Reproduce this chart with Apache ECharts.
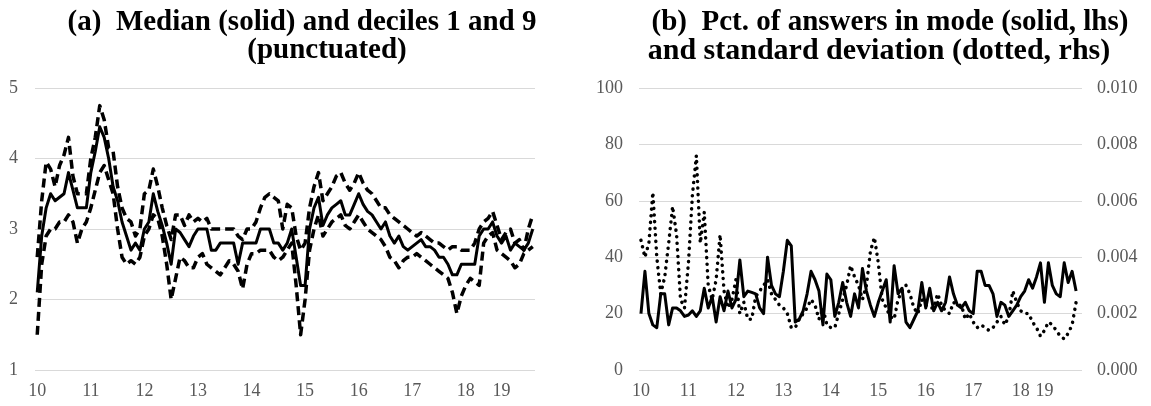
<!DOCTYPE html>
<html>
<head>
<meta charset="utf-8">
<script src="https://cdn.jsdelivr.net/npm/echarts@6/dist/echarts.min.js"></script>
<style>
html,body{margin:0;padding:0;background:#fff;}
#chart{width:1151px;height:406px;}
</style>
</head>
<body>
<div id="chart"></div>
<script>
// ---------- DATA ----------
// Panel (a): monthly survey, Jan 2010 onwards
const medianA = [2.1,2.9,3.3,3.5,3.4,3.45,3.5,3.8,3.55,3.3,3.3,3.3,
  3.8,4.1,4.45,4.3,4.0,3.6,3.4,3.1,2.9,2.7,2.8,2.7,
  3.0,3.1,3.5,3.25,3.05,2.8,2.5,3.0,2.95,2.85,2.75,2.9,
  3.0,3.0,3.0,2.7,2.7,2.8,2.8,2.8,2.8,2.5,2.8,2.8,
  2.8,2.8,3.0,3.0,3.0,2.8,2.8,2.7,2.8,3.0,2.6,2.2,
  2.2,3.0,3.3,3.45,3.05,3.2,3.3,3.35,3.4,3.2,3.2,3.35,
  3.5,3.35,3.25,3.2,3.1,3.0,3.1,2.9,2.8,2.9,2.75,2.7,
  2.75,2.8,2.85,2.75,2.75,2.7,2.6,2.6,2.5,2.35,2.35,2.5,
  2.5,2.5,2.5,2.9,3.0,3.0,3.1,2.9,2.8,2.9,2.7,2.8,
  2.75,2.7,2.8,3.0];
const decile1A = [1.5,2.5,2.9,3.0,3.0,3.1,3.1,3.2,3.1,2.8,3.0,3.1,
  3.3,3.55,3.8,3.9,3.7,3.5,3.0,2.6,2.5,2.55,2.5,2.6,
  2.9,3.0,3.2,3.15,2.9,2.5,2.0,2.3,2.6,2.55,2.45,2.45,
  2.6,2.65,2.5,2.45,2.4,2.35,2.45,2.55,2.5,2.4,2.15,2.5,
  2.65,2.65,2.7,2.7,2.7,2.6,2.55,2.6,2.7,2.8,2.2,1.5,
  2.0,2.7,3.0,3.2,2.9,3.0,3.1,3.15,3.2,3.05,3.0,3.1,
  3.2,3.1,3.0,2.95,2.9,2.85,2.75,2.6,2.55,2.45,2.55,2.6,
  2.6,2.65,2.6,2.55,2.5,2.45,2.4,2.35,2.3,2.1,1.8,2.05,
  2.2,2.3,2.25,2.2,2.8,2.9,2.95,2.7,2.65,2.6,2.55,2.45,
  2.5,2.65,2.7,2.75];
const decile9A = [2.6,3.4,3.95,3.85,3.6,3.9,4.05,4.3,3.75,3.5,3.5,3.5,
  4.0,4.3,4.75,4.55,4.15,4.1,3.6,3.3,3.15,3.1,2.9,3.0,
  3.5,3.55,3.85,3.6,3.3,3.05,2.85,3.2,3.2,3.05,3.2,3.1,
  3.15,3.1,3.15,3.0,3.0,3.0,3.0,3.0,3.0,2.9,2.85,3.0,
  3.0,3.1,3.3,3.45,3.5,3.45,3.4,3.0,3.35,3.3,2.9,2.7,
  2.8,3.3,3.6,3.8,3.4,3.5,3.6,3.75,3.8,3.65,3.55,3.65,
  3.8,3.65,3.55,3.5,3.4,3.3,3.3,3.2,3.15,3.1,3.05,3.0,
  2.95,2.9,2.95,2.9,2.85,2.8,2.8,2.75,2.7,2.75,2.75,2.7,
  2.7,2.7,2.8,3.0,3.1,3.15,3.25,3.05,2.85,2.95,3.0,2.8,
  2.85,2.7,3.0,3.2];

// Panel (b): percent of answers in mode (lhs) and standard deviation (rhs)
const modePctB = [20,35,20,16,15,27,27,16,22,22,21,19,
  19.5,21,19,21,29,22,26,17,26,21,28,22,
  25,39,26,28,27.5,27,22,20,40,30,27,26,
  35,46,44,17,18,21,27,35,32,28,16,34,
  32,19,24,31,24,19,27,22,36,28,23,19,
  24,28,32,17,37,27,29,17,15,18,21,31,
  22,29,21,24,21,24,33,27,23,22,24,21,
  20,35,35,30,30,27,19,24,23,19,21,23,
  26,28,32,29,33,38,24,38,30,27,26,38,
  31,35,28];
const stdDevB = [0.0046,0.0040,0.0045,0.0063,0.0040,0.0027,0.0033,0.0045,0.0058,0.0048,0.0025,0.0022,
  0.0038,0.0062,0.0076,0.0045,0.0056,0.0030,0.0025,0.0032,0.0048,0.0028,0.0022,0.0025,
  0.0032,0.0020,0.0024,0.0018,0.0018,0.0026,0.0028,0.0030,0.0032,0.0027,0.0025,0.0023,
  0.0022,0.0020,0.0015,0.0015,0.0018,0.0020,0.0022,0.0025,0.0023,0.0018,0.0022,0.0016,
  0.0015,0.0015,0.0020,0.0025,0.0030,0.0037,0.0033,0.0030,0.0025,0.0030,0.0042,0.0047,
  0.0038,0.0025,0.0022,0.0019,0.0018,0.0025,0.0028,0.0030,0.0027,0.0022,0.0020,0.0025,
  0.0023,0.0022,0.0022,0.0027,0.0023,0.0021,0.0020,0.0024,0.0023,0.0023,0.0018,0.0020,
  0.0017,0.0015,0.0016,0.0015,0.0014,0.0015,0.0017,0.0019,0.0016,0.0019,0.0028,0.0024,
  0.0021,0.0020,0.0020,0.0017,0.0015,0.0012,0.0014,0.0017,0.0016,0.0014,0.0012,0.0011,
  0.0013,0.0016,0.0024];

// Axis categories (months) and the tick labels shown on them
const monthCountA = 112;
const monthCountB = 112;
const tickLabelsA = {'2010-01':'10','2011-01':'11','2012-01':'12','2013-01':'13','2014-01':'14',
  '2015-01':'15','2016-01':'16','2017-01':'17','2018-01':'18','2018-09':'19'};
const tickLabelsB = {'2010-01':'10','2011-01':'11','2012-01':'12','2013-01':'13','2014-01':'14',
  '2015-01':'15','2016-01':'16','2017-01':'17','2018-01':'18','2018-07':'19'};
const yTicksA = [1,2,3,4,5];
const yTicksBLeft = [0,20,40,60,80,100];
const yTicksBRight = [0,0.002,0.004,0.006,0.008,0.010];

const titleA = ['(a)  Median (solid) and deciles 1 and 9', '(punctuated)'];
const titleB = ['(b)  Pct. of answers in mode (solid, lhs)', 'and standard deviation (dotted, rhs)'];

// ---------- BUILD ----------
function monthList(startYear, n) {
  const out = [];
  for (let k = 0; k < n; k++) {
    const y = startYear + Math.floor(k / 12);
    const m = (k % 12) + 1;
    out.push(y + '-' + (m < 10 ? '0' + m : m));
  }
  return out;
}
const catsA = monthList(2010, monthCountA);
const catsB = monthList(2010, monthCountB);

const FONT = '"Liberation Serif", "Times New Roman", serif';
const GRAY = '#595959';
const GRID = '#d9d9d9';

function catAxis(gridIndex, cats, labels) {
  return {
    type: 'category', gridIndex: gridIndex, data: cats, boundaryGap: true,
    axisLine: {show: false}, axisTick: {show: false}, splitLine: {show: false},
    axisLabel: {
      interval: function (idx, val) { return labels[val] !== undefined; },
      formatter: function (val) { return labels[val] || ''; },
      color: GRAY, fontFamily: FONT, fontSize: 18, margin: 12, hideOverlap: false
    }
  };
}
function valAxis(gridIndex, ticks, pos, showSplit, fmt, margin) {
  return {
    type: 'value', gridIndex: gridIndex, position: pos,
    min: ticks[0], max: ticks[ticks.length - 1], interval: ticks[1] - ticks[0],
    axisLine: {show: false}, axisTick: {show: false},
    splitLine: {show: showSplit, lineStyle: {color: GRID, width: 1}},
    axisLabel: {color: GRAY, fontFamily: FONT, fontSize: 18, margin: margin, formatter: fmt}
  };
}

const chart = echarts.init(document.getElementById('chart'), null, {renderer: 'canvas'});
const titleFont = 'bold 29px ' + FONT;
const titleFont2 = 'bold 30px ' + FONT;
chart.setOption({
  animation: false,
  backgroundColor: '#fff',
  grid: [
    {left: 35, right: 616, top: 88, bottom: 36},
    {left: 639, right: 69, top: 88, bottom: 36}
  ],
  xAxis: [catAxis(0, catsA, tickLabelsA), catAxis(1, catsB, tickLabelsB)],
  yAxis: [
    valAxis(0, yTicksA, 'left', true, function (v) { return String(v); }, 17),
    valAxis(1, yTicksBLeft, 'left', true, function (v) { return String(v); }, 16),
    valAxis(1, yTicksBRight, 'right', false, function (v) { return v.toFixed(3); }, 15)
  ],
  graphic: [
    {type: 'text', x: 302, y: 23, style: {text: titleA[0], font: titleFont, fill: '#000', align: 'center', verticalAlign: 'middle'}},
    {type: 'text', x: 327, y: 51, style: {text: titleA[1], font: titleFont, fill: '#000', align: 'center', verticalAlign: 'middle'}},
    {type: 'text', x: 890, y: 23, style: {text: titleB[0], font: titleFont, fill: '#000', align: 'center', verticalAlign: 'middle'}},
    {type: 'text', x: 879, y: 51, style: {text: titleB[1], font: titleFont2, fill: '#000', align: 'center', verticalAlign: 'middle'}}
  ],
  series: [
    {name: 'Decile 9', type: 'line', xAxisIndex: 0, yAxisIndex: 0, data: decile9A, symbol: 'none',
     lineStyle: {color: '#000', width: 3.5, type: [9, 5], join: 'round'}},
    {name: 'Decile 1', type: 'line', xAxisIndex: 0, yAxisIndex: 0, data: decile1A, symbol: 'none',
     lineStyle: {color: '#000', width: 3.5, type: [9, 5], join: 'round'}},
    {name: 'Median', type: 'line', xAxisIndex: 0, yAxisIndex: 0, data: medianA, symbol: 'none',
     lineStyle: {color: '#000', width: 3, join: 'round'}},
    {name: 'Std. dev.', type: 'line', xAxisIndex: 1, yAxisIndex: 2, data: stdDevB, symbol: 'none',
     lineStyle: {color: '#000', width: 3.5, type: [0.1, 6.5], cap: 'round', join: 'round'}},
    {name: 'Pct. in mode', type: 'line', xAxisIndex: 1, yAxisIndex: 1, data: modePctB, symbol: 'none',
     lineStyle: {color: '#000', width: 3, join: 'round'}}
  ]
});
</script>
</body>
</html>
